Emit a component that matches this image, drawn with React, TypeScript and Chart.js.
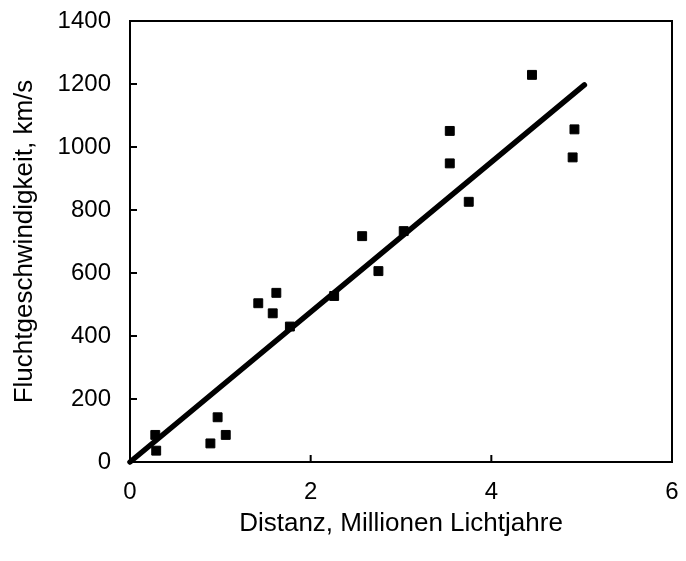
import React, { useEffect, useRef } from "react";
import { Chart, registerables } from "chart.js";

Chart.register(...registerables);

// Data
const distance = [0.28, 0.29, 0.89, 0.97, 1.06, 1.42, 1.58, 1.62, 1.77, 2.26, 2.57, 2.75, 3.03, 3.54, 3.54, 3.75, 4.45, 4.92, 4.9];
const velocity = [86, 36, 59, 142, 86, 504, 472, 537, 430, 527, 717, 606, 733, 1051, 948, 826, 1229, 1056, 967];
const fitX = [0, 5.03];
const fitY = [0, 1197];
const xTickValues = [0, 2, 4, 6];
const yTickValues = [0, 200, 400, 600, 800, 1000, 1200, 1400];
const xTitle = "Distanz, Millionen Lichtjahre";
const yTitle = "Fluchtgeschwindigkeit, km/s";

const FONT = "'Liberation Sans', Arial, sans-serif";
const TICK_SIZE = 24;
const TITLE_SIZE = 26;

const framePlugin = {
  id: "frame",
  beforeDatasetsDraw(chart: any) {
    const { ctx, chartArea: a, scales } = chart;
    ctx.save();
    ctx.strokeStyle = "#000";
    ctx.lineWidth = 2;
    ctx.strokeRect(a.left, a.top, a.right - a.left, a.bottom - a.top);
    ctx.beginPath();
    const len = 7;
    scales.x.ticks.forEach((t: any) => {
      const px = scales.x.getPixelForValue(t.value);
      ctx.moveTo(px, a.bottom);
      ctx.lineTo(px, a.bottom - len);
    });
    scales.y.ticks.forEach((t: any) => {
      const py = scales.y.getPixelForValue(t.value);
      ctx.moveTo(a.left, py);
      ctx.lineTo(a.left + len, py);
    });
    ctx.stroke();
    ctx.restore();
  },
};

export default function App() {
  const canvasRef = useRef<HTMLCanvasElement | null>(null);

  useEffect(() => {
    const canvas = canvasRef.current;
    if (!canvas) return;
    const chart = new Chart(canvas, {
      type: "scatter",
      data: {
        datasets: [
          {
            type: "line",
            label: "fit",
            data: fitX.map((x, i) => ({ x, y: fitY[i] })),
            borderColor: "#000",
            borderWidth: 5.5,
            borderCapStyle: "round",
            pointRadius: 0,
            fill: false,
            clip: false as any,
          },
          {
            type: "scatter",
            label: "data",
            data: distance.map((x, i) => ({ x, y: velocity[i] })),
            pointStyle: "rect",
            pointRadius: 6.3,
            backgroundColor: "#000",
            borderColor: "#000",
            borderWidth: 1,
          },
        ],
      },
      options: {
        responsive: false,
        animation: false,
        events: [],
        layout: { padding: { top: 21, right: 14, left: 0, bottom: 0 } },
        plugins: { legend: { display: false }, tooltip: { enabled: false } },
        scales: {
          x: {
            type: "linear",
            min: 0,
            max: 6,
            afterBuildTicks: (s: any) => {
              s.ticks = xTickValues.map((v) => ({ value: v }));
            },
            afterFit: (s: any) => {
              s.height = 99;
              s.paddingLeft = 0;
              s.paddingRight = 0;
            },
            grid: { display: false, drawTicks: false },
            border: { display: false },
            ticks: {
              color: "#000",
              padding: 16,
              maxRotation: 0,
              font: { family: FONT, size: TICK_SIZE },
              callback: (v: any) => String(v),
            },
            title: {
              display: true,
              text: xTitle,
              color: "#000",
              font: { family: FONT, size: TITLE_SIZE },
              padding: { top: 0, bottom: 22 },
            },
          },
          y: {
            type: "linear",
            min: 0,
            max: 1400,
            afterBuildTicks: (s: any) => {
              s.ticks = yTickValues.map((v) => ({ value: v }));
            },
            afterFit: (s: any) => {
              s.width = 130;
              s.paddingTop = 0;
              s.paddingBottom = 0;
            },
            grid: { display: false, drawTicks: false },
            border: { display: false },
            ticks: {
              color: "#000",
              padding: 19,
              font: { family: FONT, size: TICK_SIZE },
              callback: (v: any) => String(v),
            },
            title: {
              display: true,
              text: yTitle,
              color: "#000",
              font: { family: FONT, size: TITLE_SIZE },
              padding: { top: 9, bottom: 0 },
            },
          },
        },
      },
      plugins: [framePlugin],
    });
    return () => chart.destroy();
  }, []);

  return (
    <div style={{ position: "absolute", left: 0, top: 0, width: 686, height: 561, background: "#fff" }}>
      <canvas ref={canvasRef} width={686} height={561} style={{ display: "block", width: 686, height: 561 }} />
    </div>
  );
}
